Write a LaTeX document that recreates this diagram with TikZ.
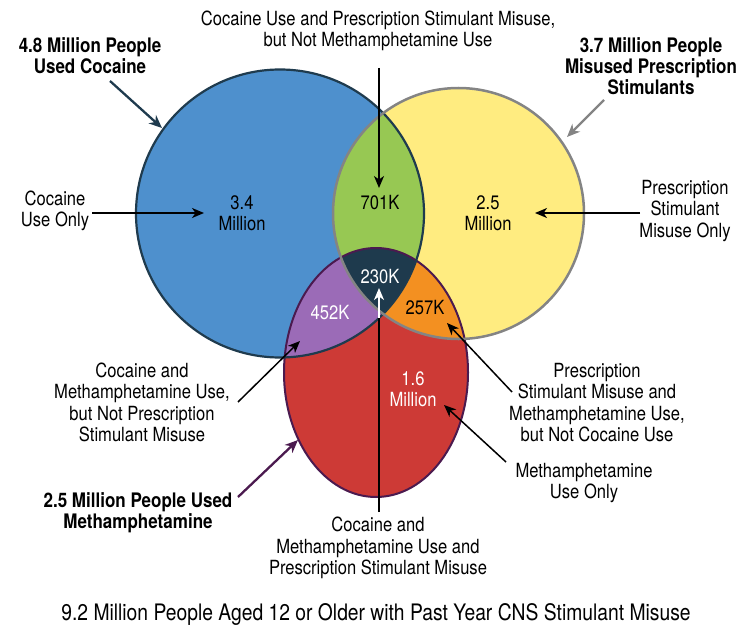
\documentclass[tikz,border=0pt]{standalone}
\usepackage{fontspec}
\setmainfont{TeX Gyre Heros}[FakeStretch=0.85]
\usetikzlibrary{arrows.meta}
\definecolor{cblue}{HTML}{4E90CD}
\definecolor{cyellow}{HTML}{FFEC80}
\definecolor{cgreen}{HTML}{97C853}
\definecolor{cred}{HTML}{CD3A36}
\definecolor{cpurple}{HTML}{9B6BB7}
\definecolor{corange}{HTML}{F39021}
\definecolor{cdark}{HTML}{1E3A4D}
\definecolor{bline}{HTML}{1F3B4E}
\definecolor{yline}{HTML}{848484}
\definecolor{rline}{HTML}{4B1A4F}
\begin{document}
\begin{tikzpicture}[x=1pt,y=-1pt,
  font=\fontsize{19.5}{21.5}\selectfont,
  lbl/.style={align=center, inner sep=0pt},
  blbl/.style={align=center, inner sep=0pt, font=\fontsize{20}{21}\selectfont\bfseries},
  num/.style={align=center, inner sep=0pt, font=\fontsize{19.5}{21}\selectfont},
  arr/.style={line width=1.5pt, -{Stealth[length=12pt,width=10pt,inset=3.5pt]}},
  carr/.style={line width=2.3pt, -{Stealth[length=13pt,width=11pt,inset=4pt]}}]
\useasboundingbox (0,0) rectangle (751,631);
\coordinate (B) at (280,213.5);
\coordinate (Y) at (458.5,213.5);
\coordinate (R) at (376,372.5);
% base fills
\fill[cblue] (B) circle[radius=144pt];
\fill[cyellow] (Y) circle[radius=125.5pt];
\begin{scope}
  \clip (B) circle[radius=144pt];
  \fill[cgreen] (Y) circle[radius=125.5pt];
\end{scope}
\fill[cred] (R) ellipse[x radius=92pt, y radius=124.5pt];
\begin{scope}
  \clip (R) ellipse[x radius=92pt, y radius=124.5pt];
  \fill[cpurple] (B) circle[radius=144pt];
  \fill[corange] (Y) circle[radius=125.5pt];
  \clip (B) circle[radius=144pt];
  \fill[cdark] (Y) circle[radius=125.5pt];
\end{scope}
% outlines
\draw[rline, line width=2pt] (R) ellipse[x radius=92pt, y radius=124.5pt];
\draw[bline, line width=2.2pt] (B) circle[radius=144pt];
\draw[yline, line width=2.5pt] (Y) circle[radius=125.5pt];
% region numbers
\node[num] (n34) at (242,213) {3.4\\Million};
\node[num] (n701) at (380,203) {701K};
\node[num] (n25) at (488,213) {2.5\\Million};
\node[num, text=white] (n230) at (380,277) {230K};
\node[num, text=white] (n452) at (330,313) {452K};
\node[num] (n257) at (425,308) {257K};
\node[num, text=white] (n16) at (413,389) {1.6\\Million};
% labels
\node[lbl] (ltop) at (378,31) {Cocaine Use and Prescription Stimulant Misuse,\\but Not Methamphetamine Use};
\node[blbl] (lcoc) at (90,55.5) {4.8 Million People\\Used Cocaine};
\node[blbl] (lstim) at (651,66) {3.7 Million People\\Misused Prescription\\Stimulants};
\node[lbl] (lcoconly) at (55,211) {Cocaine\\Use Only};
\node[lbl] (lstimonly) at (685,211) {Prescription\\Stimulant\\Misuse Only};
\node[lbl] (lcm) at (142,402.5) {Cocaine and\\Methamphetamine Use,\\but Not Prescription\\Stimulant Misuse};
\node[lbl] (lsm) at (597,402.5) {Prescription\\Stimulant Misuse and\\Methamphetamine Use,\\but Not Cocaine Use};
\node[lbl] (lmonly) at (584,483) {Methamphetamine\\Use Only};
\node[blbl] (lmeth) at (138,512.5) {2.5 Million People Used\\Methamphetamine};
\node[lbl] (lall) at (378,548) {Cocaine and\\Methamphetamine Use and\\Prescription Stimulant Misuse};
\node[inner sep=0pt, font=\fontsize{22.7}{24}\selectfont] (title) at (376,614) {9.2 Million People Aged 12 or Older with Past Year CNS Stimulant Misuse};
% arrow end points
\coordinate (a1s) at (110,81);   \coordinate (a1e) at (162,128);
\coordinate (a2s) at (604,100);  \coordinate (a2e) at (567,137);
\coordinate (a3s) at (379,68);   \coordinate (a3e) at (379,188);
\coordinate (a4s) at (92,213);   \coordinate (a4e) at (204,213);
\coordinate (a5s) at (640,213);  \coordinate (a5e) at (535,213);
\coordinate (a6s) at (238,402);  \coordinate (a6e) at (300,341);
\coordinate (a7s) at (512,392);  \coordinate (a7e) at (447,323);
\coordinate (a8s) at (506,462);  \coordinate (a8e) at (444,405);
\coordinate (a9s) at (238,497);  \coordinate (a9e) at (298,440);
\coordinate (a10s) at (379,512); \coordinate (a10m) at (379,318); \coordinate (a10e) at (379,288);
% arrows
\draw[carr, bline] (a1s) -- (a1e);
\draw[carr, yline] (a2s) -- (a2e);
\draw[arr] (a3s) -- (a3e);
\draw[arr] (a4s) -- (a4e);
\draw[arr] (a5s) -- (a5e);
\draw[arr] (a6s) -- (a6e);
\draw[arr] (a7s) -- (a7e);
\draw[arr] (a8s) -- (a8e);
\draw[carr, rline] (a9s) -- (a9e);
\draw[line width=1.5pt] (a10s) -- (a10m);
\draw[arr, white] (a10m) -- (a10e);
\end{tikzpicture}
\end{document}
